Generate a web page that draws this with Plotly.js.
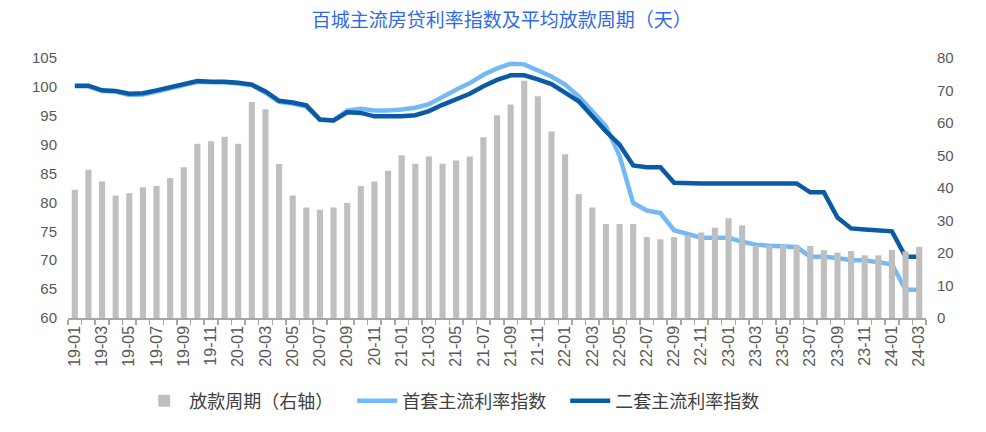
<!DOCTYPE html>
<html>
<head>
<meta charset="utf-8">
<script src="https://cdn.plot.ly/plotly-3.0.1.min.js"></script>
<style>html,body{margin:0;padding:0;background:#fff;}#chart{width:986px;height:432px;}</style>
</head>
<body>
<div id="chart"></div>
<script>
const months = ["19-01","19-02","19-03","19-04","19-05","19-06","19-07","19-08","19-09","19-10","19-11","19-12",
"20-01","20-02","20-03","20-04","20-05","20-06","20-07","20-08","20-09","20-10","20-11","20-12",
"21-01","21-02","21-03","21-04","21-05","21-06","21-07","21-08","21-09","21-10","21-11","21-12",
"22-01","22-02","22-03","22-04","22-05","22-06","22-07","22-08","22-09","22-10","22-11","22-12",
"23-01","23-02","23-03","23-04","23-05","23-06","23-07","23-08","23-09","23-10","23-11","23-12",
"24-01","24-02","24-03"];

const loanDays = [39.5,45.6,42.0,37.7,38.4,40.2,40.6,43.1,46.4,53.6,54.4,55.8,
53.6,66.5,64.2,47.4,37.7,34.0,33.3,34.0,35.4,40.6,42.0,45.3,
50.1,47.5,49.7,47.5,48.5,49.7,55.6,62.4,65.7,73.0,68.2,57.4,
50.4,38.1,34.0,28.9,28.9,28.9,24.9,24.2,24.9,25.4,26.3,27.8,
30.7,28.5,22.4,22.4,22.4,22.4,22.2,20.9,20.1,20.6,19.3,19.3,
20.9,20.5,21.9];

const firstHomeRate = [100.1,100.1,99.3,99.2,98.6,98.7,99.2,99.8,100.2,100.9,100.8,100.8,
100.6,100.3,99.0,97.4,97.1,96.6,94.3,94.2,95.9,96.2,95.9,95.9,
96.1,96.4,97.0,98.35,99.5,100.65,102.1,103.2,104.0,103.9,102.9,101.8,
100.4,98.35,95.8,93.2,88.05,79.9,78.6,78.15,75.2,74.5,73.9,73.9,
73.9,73.2,72.7,72.5,72.45,72.3,70.6,70.6,70.4,70.0,70.0,69.6,
69.3,64.9,64.9];

const secondHomeRate = [100.2,100.2,99.4,99.3,98.8,98.9,99.4,100.0,100.4,101.0,100.9,100.9,
100.7,100.4,99.2,97.6,97.3,96.8,94.35,94.2,95.6,95.5,94.9,94.9,
94.9,95.1,95.8,96.9,97.9,98.8,100.1,101.2,102.0,102.0,101.3,100.5,
99.0,97.5,94.9,92.3,90.0,86.4,86.1,86.1,83.4,83.3,83.3,83.3,
83.3,83.3,83.3,83.3,83.3,83.3,81.75,81.75,77.4,75.5,75.3,75.1,
75.0,70.6,70.6];

const leftTicks = [60,65,70,75,80,85,90,95,100,105];
const rightTicks = [0,10,20,30,40,50,60,70,80];
const tickText = months.map((m, i) => (i % 2 === 0 ? m : ""));

const FONT = "Liberation Sans, Arial, Noto Sans CJK SC, sans-serif";

const traces = [
  {type: "bar", name: "放款周期（右轴）", x: months, y: loanDays, yaxis: "y2",
   marker: {color: "#bfbfbf"}},
  {type: "scatter", mode: "lines", name: "首套主流利率指数", x: months, y: firstHomeRate,
   line: {color: "#74b9f5", width: 4.5}},
  {type: "scatter", mode: "lines", name: "二套主流利率指数", x: months, y: secondHomeRate,
   line: {color: "#0b5aa6", width: 4.5}}
];

const layout = {
  width: 986, height: 432,
  margin: {l: 68, r: 60, t: 58, b: 111},
  paper_bgcolor: "#ffffff", plot_bgcolor: "#ffffff",
  font: {family: FONT, color: "#595959", size: 15},
  title: {text: "百城主流房贷利率指数及平均放款周期（天）", x: 0.509, xref: "container", xanchor: "center",
          y: 0.954, yref: "container", yanchor: "middle",
          font: {family: "Noto Sans CJK SC, sans-serif", size: 19, color: "#2f6ae8"}},
  bargap: 0.55,
  showlegend: true,
  legend: {orientation: "h", x: 0.083, xanchor: "left", y: -0.319, yanchor: "middle",
           font: {family: "Noto Sans CJK SC, sans-serif", size: 18, color: "#404040"},
           traceorder: "normal", itemwidth: 40, entrywidth: 158, entrywidthmode: "pixels"},
  xaxis: {type: "category", tickmode: "array", tickvals: months, ticktext: tickText,
          tickangle: -90, tickson: "boundaries", ticks: "outside", ticklen: 5, tickwidth: 1.5,
          tickcolor: "#a6a6a6", showline: true, linecolor: "#a6a6a6", linewidth: 1.5,
          showgrid: false, zeroline: false, tickfont: {size: 16, color: "#595959"},
          range: [-0.5, months.length - 0.5]},
  yaxis: {range: [60, 105], tickmode: "array", tickvals: leftTicks, showgrid: false, zeroline: false,
          showline: false, ticks: "", ticklabelstandoff: 10, tickfont: {size: 15, color: "#595959"}},
  yaxis2: {range: [0, 80], tickmode: "array", tickvals: rightTicks, overlaying: "y", side: "right",
           showgrid: false, zeroline: false, showline: false, ticks: "", ticklabelstandoff: 10,
           tickfont: {size: 15, color: "#595959"}}
};

Plotly.newPlot("chart", traces, layout, {displayModeBar: false, staticPlot: true});
</script>
</body>
</html>
